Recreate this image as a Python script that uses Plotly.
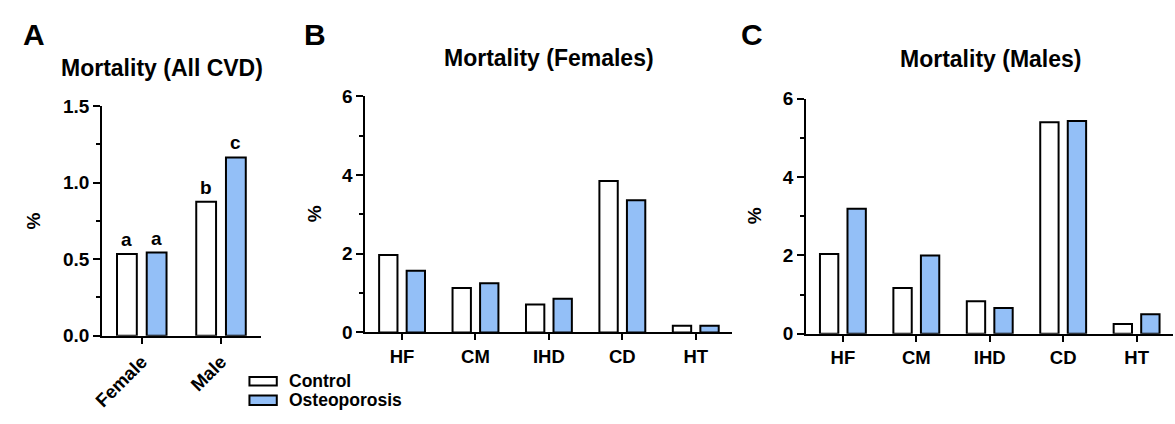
import plotly.graph_objects as go

# ---- data -------------------------------------------------------------
sexes = ["Female", "Male"]
all_cvd_control = [0.534, 0.874]
all_cvd_osteo = [0.543, 1.164]
all_cvd_letters_control = ["a", "b"]
all_cvd_letters_osteo = ["a", "c"]

causes = ["HF", "CM", "IHD", "CD", "HT"]
female_control = [1.97, 1.13, 0.71, 3.85, 0.17]
female_osteo = [1.57, 1.25, 0.86, 3.36, 0.17]
male_control = [2.04, 1.17, 0.83, 5.40, 0.25]
male_osteo = [3.19, 2.00, 0.66, 5.43, 0.50]

series_names = ["Control", "Osteoporosis"]
series_colors = ["#FFFFFF", "#93BFF7"]

panel_titles = ["Mortality (All CVD)", "Mortality (Females)", "Mortality (Males)"]
panel_letters = ["A", "B", "C"]
y_label = "%"

# ---- layout helpers -----------------------------------------------------
W, H = 1175, 424
FONT = "Arial, Liberation Sans, Helvetica, sans-serif"
BAR_W = 0.25
OFFSETS = [-0.3125, 0.0625]


def fx(px):
    return px / W


def fy(py):
    return 1 - py / H


fig = go.Figure()

panels = [
    dict(cats=sexes, vals=[all_cvd_control, all_cvd_osteo], ax="", x=(92, 252), y=(342.7, 101),
         yr=[0, 1.5], dtick=0.5, minor=0.25, fmt=".1f"),
    dict(cats=causes, vals=[female_control, female_osteo], ax="2", x=(357.7, 728.3), y=(339.3, 90.7),
         yr=[0, 6], dtick=2, minor=1, fmt="d"),
    dict(cats=causes, vals=[male_control, male_osteo], ax="3", x=(802.7, 1173.3), y=(340.7, 93.3),
         yr=[0, 6], dtick=2, minor=1, fmt="d"),
]

for p in panels:
    for k, (name, color) in enumerate(zip(series_names, series_colors)):
        fig.add_trace(go.Bar(
            x=p["cats"], y=p["vals"][k], name=name,
            xaxis="x" + p["ax"], yaxis="y" + p["ax"],
            width=BAR_W, offset=OFFSETS[k],
            marker=dict(color=color, line=dict(color="black", width=2)),
            showlegend=False,
        ))
    xa = dict(
        domain=[fx(p["x"][0]), fx(p["x"][1])],
        anchor="y" + p["ax"],
        type="category",
        range=[-0.5, len(p["cats"]) - 0.5],
        showline=True, linecolor="black", linewidth=2,
        ticks="outside", ticklen=6, tickwidth=2, tickcolor="black",
        showgrid=False, zeroline=False,
        tickfont=dict(family=FONT, size=18.5, color="black", weight="bold"),
    )
    if p["ax"] == "":
        xa["tickangle"] = -45
    ya = dict(
        domain=[fy(p["y"][0]), fy(p["y"][1])],
        anchor="x" + p["ax"],
        range=p["yr"], dtick=p["dtick"], tick0=0, tickformat=p["fmt"],
        showline=True, linecolor="black", linewidth=2,
        ticks="outside", ticklen=7, tickwidth=2, tickcolor="black",
        minor=dict(dtick=p["minor"], ticks="outside", ticklen=4, tickwidth=2,
                   tickcolor="black", showgrid=False),
        showgrid=False, zeroline=False,
        tickfont=dict(family=FONT, size=19, color="black", weight="bold"),
    )
    fig.update_layout({"xaxis" + p["ax"]: xa, "yaxis" + p["ax"]: ya})

annotations = []

# significance letters above the All-CVD bars
for k, (vals, letters) in enumerate([(all_cvd_control, all_cvd_letters_control),
                                     (all_cvd_osteo, all_cvd_letters_osteo)]):
    for i, (v, t) in enumerate(zip(vals, letters)):
        annotations.append(dict(
            x=i + OFFSETS[k] + BAR_W / 2, y=v, xref="x", yref="y",
            text=t, showarrow=False, yanchor="bottom", yshift=2,
            font=dict(family=FONT, size=19, color="black", weight="bold"),
        ))

# panel titles, letters and y-axis labels
title_pos = [(152.3, 61), (542.8, 51), (988.3, 52)]
letter_pos = [(23, 26), (307, 25.5), (747.5, 25.5)]
ylabel_pos = [(23, 221.7), (305.8, 214), (751.3, 216.7)]
for t, (tx, ty), l, (lx, ly), (yx, yy) in zip(panel_titles, title_pos, panel_letters,
                                                letter_pos, ylabel_pos):
    annotations.append(dict(x=fx(tx), y=fy(ty), xref="paper", yref="paper", text=t,
                            showarrow=False, xanchor="center", yanchor="middle",
                            font=dict(family=FONT, size=23, color="black", weight="bold")))
    annotations.append(dict(x=fx(lx), y=fy(ly), xref="paper", yref="paper", text=l,
                            showarrow=False, xanchor="center", yanchor="middle",
                            font=dict(family=FONT, size=30, color="black", weight="bold")))
    annotations.append(dict(x=fx(yx), y=fy(yy), xref="paper", yref="paper", text=y_label,
                            showarrow=False, xanchor="center", yanchor="middle", textangle=-90,
                            font=dict(family=FONT, size=19, color="black", weight="bold")))

# legend: swatches and labels
shapes = []
legend_rows = [(386, 395), (405.7, 415.7)]
for name, color, (y0, y1) in zip(series_names, series_colors, legend_rows):
    shapes.append(dict(type="rect", xref="paper", yref="paper",
                       x0=fx(240.7), x1=fx(268.3), y0=fy(y1), y1=fy(y0),
                       fillcolor=color, line=dict(color="black", width=2)))
    annotations.append(dict(x=fx(280), y=fy((y0 + y1) / 2), xref="paper", yref="paper",
                            text=name, showarrow=False, xanchor="left", yanchor="middle",
                            borderpad=0,
                            font=dict(family=FONT, size=17.5, color="black", weight="bold")))

fig.update_layout(
    width=W, height=H,
    margin=dict(l=0, r=0, t=0, b=0),
    paper_bgcolor="white", plot_bgcolor="white",
    barmode="overlay",
    showlegend=False,
    annotations=annotations,
    shapes=shapes,
    font=dict(family=FONT, color="black"),
)

fig.write_html("out.html")
